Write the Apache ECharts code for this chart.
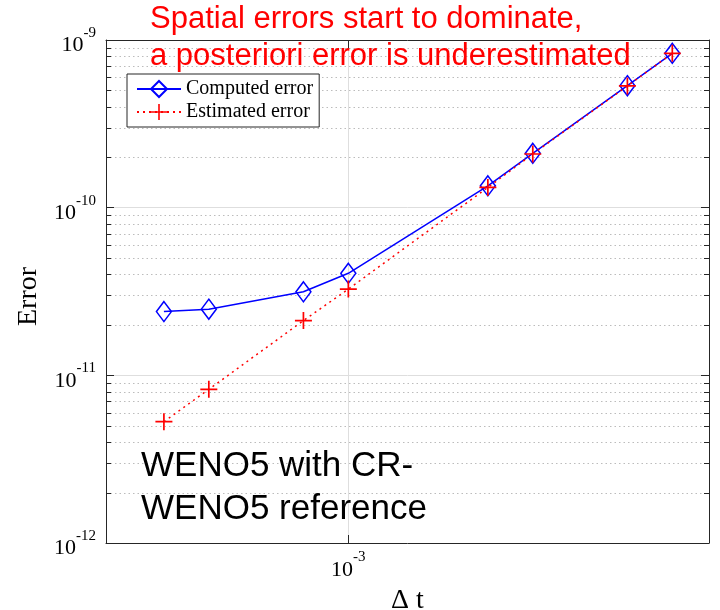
<!DOCTYPE html>
<html>
<head>
<meta charset="utf-8">
<script src="https://cdn.jsdelivr.net/npm/echarts@6/dist/echarts.min.js"></script>
<style>
  html, body { margin: 0; padding: 0; background: #fff; }
  #chart { width: 720px; height: 610px; }
</style>
</head>
<body>
<div id="chart"></div>
<script>
// Time step sizes and the two error curves
const dtValues = [4e-4, 5e-4, 8e-4, 1e-3, 2e-3, 2.5e-3, 4e-3, 5e-3];
const computedError = [2.40e-11, 2.48e-11, 3.15e-11, 4.06e-11, 1.35e-10, 2.11e-10, 5.34e-10, 8.33e-10];
const estimatedError = [5.29e-12, 8.25e-12, 2.12e-11, 3.27e-11, 1.32e-10, 2.09e-10, 5.32e-10, 8.33e-10];

// Axis ranges
const xRange = [3e-4, 6e-3];
const yRange = [1e-12, 1e-9];

// Minor (log) ticks on the error axis: mantissa x decade
const minorMantissas = [2, 3, 4, 5, 6, 7, 8, 9];
const minorDecades = [1e-12, 1e-11, 1e-10];

const seriesNames = ['Computed error', 'Estimated error'];
const titleLines = ['Spatial errors start to dominate,', 'a posteriori error is underestimated'];
const noteLines = ['WENO5 with CR-', 'WENO5 reference'];
const xName = '\u0394 t';
const yName = 'Error';

const SERIF = '"Liberation Serif", "Times New Roman", serif';
const SANS = '"Liberation Sans", Arial, Helvetica, sans-serif';
const AXIS_COLOR = '#262626';

const minorYTicks = [];
minorDecades.forEach(d => minorMantissas.forEach(m => minorYTicks.push(m * d)));

// "10^n" labels only at whole decades
function powerLabel(v) {
  const lg = Math.log10(v);
  const e = Math.round(lg);
  if (Math.abs(lg - e) > 1e-6) return '';
  return '{b|10}{s|' + e + '}';
}
const powerRich = {
  b: { fontFamily: SERIF, fontSize: 22, lineHeight: 33, color: '#000', verticalAlign: 'bottom' },
  s: { fontFamily: SERIF, fontSize: 15, lineHeight: 15, color: '#000', verticalAlign: 'top', padding: [2, 0, 0, 0] }
};

const chart = echarts.init(document.getElementById('chart'), null, { renderer: 'canvas' });

const plusSymbol = 'path://M9,0h2v20h-2zM0,9h20v2h-20z';

const option = {
  animation: false,
  backgroundColor: '#fff',
  grid: { left: 106, right: 11, top: 40, bottom: 67, containLabel: false, outerBoundsMode: 'none' },
  legend: {
    orient: 'vertical',
    left: 127,
    top: 74,
    data: seriesNames,
    itemWidth: 44,
    itemHeight: 20,
    itemGap: 3,
    padding: [5, 6, 5, 9],
    backgroundColor: '#fff',
    borderColor: AXIS_COLOR,
    borderWidth: 1,
    borderRadius: 0,
    selectedMode: false,
    textStyle: { fontFamily: SERIF, fontSize: 20, lineHeight: 20, color: '#000' }
  },
  xAxis: [
    {
      type: 'log', logBase: 10, min: xRange[0], max: xRange[1],
      position: 'bottom',
      name: xName, nameLocation: 'middle', nameGap: 44,
      nameTextStyle: { fontFamily: SERIF, fontSize: 28, color: '#000' },
      axisLine: { show: true, onZero: false, lineStyle: { color: AXIS_COLOR, width: 1 } },
      axisTick: { show: true, inside: true, length: 8, lineStyle: { color: AXIS_COLOR } },
      axisLabel: { margin: 5, formatter: powerLabel, rich: powerRich },
      splitLine: { show: true, lineStyle: { color: '#dedede', width: 1 } },
      minorTick: { show: false }
    },
    {
      type: 'log', logBase: 10, min: xRange[0], max: xRange[1],
      position: 'top',
      axisLine: { show: true, onZero: false, lineStyle: { color: AXIS_COLOR, width: 1 } },
      axisTick: { show: true, inside: true, length: 8, lineStyle: { color: AXIS_COLOR } },
      axisLabel: { show: false },
      splitLine: { show: false }
    }
  ],
  yAxis: [
    {
      type: 'log', logBase: 10, min: yRange[0], max: yRange[1],
      position: 'left',
      name: yName, nameLocation: 'middle', nameGap: 62, nameRotate: 90,
      nameTextStyle: { fontFamily: SERIF, fontSize: 28, color: '#000', padding: [0, 10, 0, 0] },
      axisLine: { show: true, onZero: false, lineStyle: { color: AXIS_COLOR, width: 1 } },
      axisTick: { show: true, inside: true, length: 8, lineStyle: { color: AXIS_COLOR } },
      axisLabel: { margin: 10, formatter: powerLabel, rich: powerRich },
      splitLine: { show: true, lineStyle: { color: '#dedede', width: 1 } }
    },
    {
      type: 'log', logBase: 10, min: yRange[0], max: yRange[1],
      position: 'right',
      axisLine: { show: true, onZero: false, lineStyle: { color: AXIS_COLOR, width: 1 } },
      axisTick: { show: true, inside: true, length: 8, lineStyle: { color: AXIS_COLOR } },
      axisLabel: { show: false },
      splitLine: { show: false }
    }
  ],
  graphic: [
    {
      type: 'text', left: 150, top: 1, z: 100,
      style: { text: titleLines.join('\n'), font: '31px ' + SANS, fill: '#ff0000', lineHeight: 37 }
    },
    {
      type: 'text', left: 141, top: 445, z: 100,
      style: { text: noteLines.join('\n'), font: '35px ' + SANS, fill: '#000', lineHeight: 43 }
    }
  ],
  series: [
    {
      // dotted minor grid lines and inward minor ticks on both vertical edges
      type: 'custom',
      name: 'minor',
      silent: true,
      z: 1,
      xAxisIndex: 0, yAxisIndex: 0,
      data: minorYTicks.map(v => [xRange[0], v]),
      renderItem: function (params, api) {
        const cs = params.coordSys;
        const y = Math.round(api.coord([api.value(0), api.value(1)])[1]) + 0.5;
        const x0 = cs.x, x1 = cs.x + cs.width;
        return {
          type: 'group',
          children: [
            { type: 'line', shape: { x1: x0, y1: y, x2: x1, y2: y },
              style: { stroke: '#bcbcbc', lineWidth: 1, lineDash: [1.5, 3] } },
            { type: 'line', shape: { x1: x0, y1: y, x2: x0 + 5, y2: y },
              style: { stroke: AXIS_COLOR, lineWidth: 1 } },
            { type: 'line', shape: { x1: x1 - 5, y1: y, x2: x1, y2: y },
              style: { stroke: AXIS_COLOR, lineWidth: 1 } }
          ]
        };
      }
    },
    {
      name: seriesNames[0],
      type: 'line',
      z: 3,
      silent: true,
      data: dtValues.map((x, i) => [x, computedError[i]]),
      symbol: 'diamond',
      symbolSize: [15, 20],
      lineStyle: { color: '#0000ff', width: 1.5 },
      itemStyle: { color: 'rgba(0,0,0,0)', borderColor: '#0000ff', borderWidth: 1.5 },
      emphasis: { disabled: true }
    },
    {
      name: seriesNames[1],
      type: 'line',
      z: 4,
      silent: true,
      data: dtValues.map((x, i) => [x, estimatedError[i]]),
      symbol: plusSymbol,
      symbolSize: 17,
      lineStyle: { color: '#ff0000', width: 1.5, type: [2, 4] },
      itemStyle: { color: '#ff0000', borderWidth: 0 },
      emphasis: { disabled: true }
    }
  ]
};

chart.setOption(option);
</script>
</body>
</html>
